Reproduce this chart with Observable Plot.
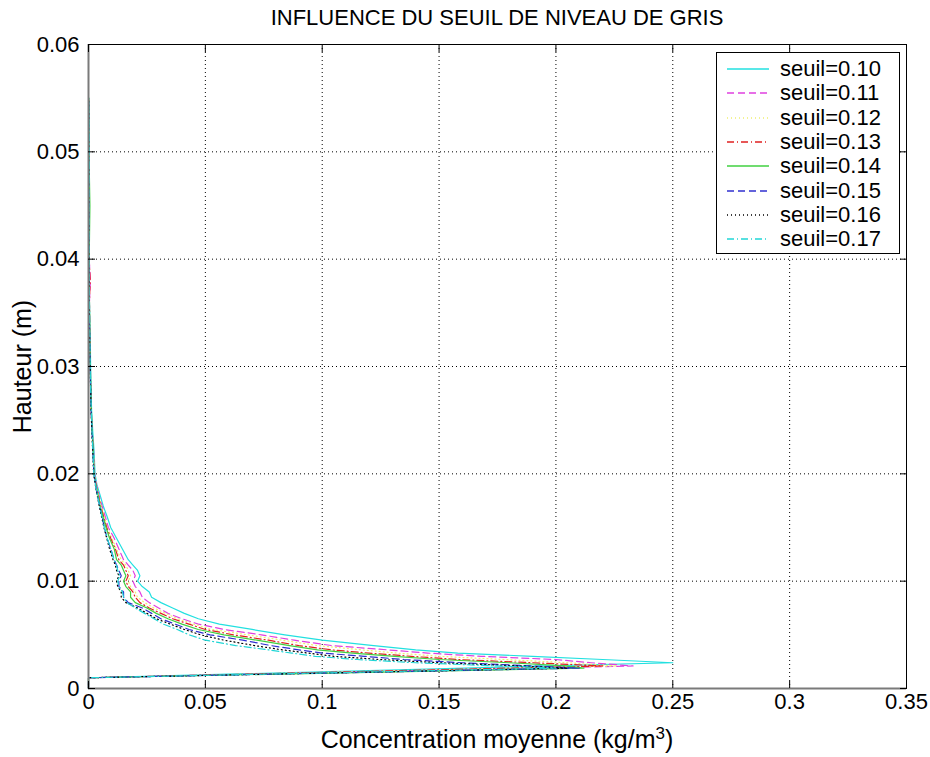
<!DOCTYPE html>
<html><head><meta charset="utf-8">
<script src="https://cdn.jsdelivr.net/npm/d3@7"></script>
<script src="https://cdn.jsdelivr.net/npm/@observablehq/plot@0.6"></script>
<style>
body{margin:0;background:#fff;font-family:"Liberation Sans",Arial,sans-serif;}
#wrap{position:relative;width:930px;height:757px;overflow:hidden;}
#chart{position:absolute;left:0;top:0;}
#title{position:absolute;left:88px;width:818px;top:5px;text-align:center;font-size:22px;line-height:26px;color:#000;}
#xlabel{position:absolute;left:88px;width:818px;top:724px;text-align:center;font-size:25px;line-height:30px;color:#000;}
#xlabel sup{font-size:17px;line-height:0;vertical-align:0.55em;}
#legend{position:absolute;left:716px;top:52px;width:182px;height:200px;border:1px solid #000;background:#fff;}
.row{position:absolute;left:0;height:24px;width:182px;}
.row svg{position:absolute;left:10px;top:0;}
.row span{position:absolute;left:63px;top:0;font-size:22px;line-height:24px;color:#000;white-space:nowrap;}
</style></head>
<body>
<div id="wrap">
<div id="chart"></div>
<div id="title">INFLUENCE DU SEUIL DE NIVEAU DE GRIS</div>
<div id="xlabel">Concentration moyenne (kg/m<sup>3</sup>)</div>
<div id="legend"></div>
</div>
<script>
// Axes
const xTicks = [0, 0.05, 0.1, 0.15, 0.2, 0.25, 0.3, 0.35];
const xTickLabels = ["0", "0.05", "0.1", "0.15", "0.2", "0.25", "0.3", "0.35"];
const yTicks = [0, 0.01, 0.02, 0.03, 0.04, 0.05, 0.06];
const yTickLabels = ["0", "0.01", "0.02", "0.03", "0.04", "0.05", "0.06"];

// Series
const seuils = ["seuil=0.10", "seuil=0.11", "seuil=0.12", "seuil=0.13", "seuil=0.14", "seuil=0.15", "seuil=0.16", "seuil=0.17"];
const couleurs = ["#22e0e0", "#e040e0", "#f0f070", "#e02020", "#40d040", "#3030d0", "#000000", "#22d6d6"];
const tirets = [null, "7,4", "1,3", "7,3,1,3", null, "7,4", "1,3", "7,3,1,3"];

// Heights (m)
const hauteurs = [0, 0.001, 0.0019, 0.0021, 0.0024, 0.0027, 0.0030, 0.0033, 0.0036, 0.0040,
  0.0045, 0.0050, 0.0055, 0.0060, 0.0065, 0.0070, 0.0075, 0.0080, 0.0085, 0.0090,
  0.0095, 0.0100, 0.0105, 0.0110, 0.0115, 0.0120, 0.0130, 0.0140, 0.0150, 0.0160,
  0.0170, 0.0180, 0.0190, 0.0200, 0.0220, 0.0240, 0.0260, 0.0280, 0.0300, 0.0320,
  0.0340, 0.0360, 0.0380, 0.0400, 0.0450, 0.0500, 0.0550];

// Mean concentration (kg/m3) per threshold
const c010 = [0, 0, 0.161, 0.196, 0.250, 0.220, 0.190, 0.158, 0.140, 0.122, 0.100, 0.084, 0.070, 0.056, 0.047, 0.041, 0.036, 0.031, 0.027, 0.026, 0.023, 0.021, 0.022, 0.021, 0.019, 0.017, 0.0145, 0.012, 0.0095, 0.008, 0.0063, 0.005, 0.0036, 0.0028, 0.0024, 0.0018, 0.0013, 0.0011, 0.0009, 0.0008, 0.0006, 0.0004, 0.0003, 0.0003, 0.0002, 0.0002, 0.0001];
const c011 = [0, 0, 0.191, 0.233, 0.215, 0.200, 0.168, 0.145, 0.128, 0.104, 0.088, 0.074, 0.058, 0.047, 0.040, 0.034, 0.030, 0.026, 0.023, 0.022, 0.020, 0.019, 0.020, 0.019, 0.017, 0.015, 0.013, 0.011, 0.0085, 0.0072, 0.0058, 0.0045, 0.0034, 0.0026, 0.0022, 0.0016, 0.0012, 0.0010, 0.0008, 0.0007, 0.0005, 0.0004, 0.0008, 0.0003, 0.0002, 0.0001, 0.0001];
const c012 = [0, 0, 0.185, 0.226, 0.205, 0.178, 0.150, 0.132, 0.117, 0.098, 0.083, 0.068, 0.053, 0.045, 0.038, 0.033, 0.028, 0.024, 0.021, 0.020, 0.018, 0.017, 0.018, 0.017, 0.016, 0.014, 0.012, 0.010, 0.008, 0.0068, 0.0055, 0.0043, 0.0033, 0.0025, 0.0021, 0.0016, 0.0012, 0.0009, 0.0008, 0.0006, 0.0005, 0.0004, 0.0003, 0.0002, 0.0002, 0.0001, 0.0001];
const c013 = [0, 0, 0.180, 0.220, 0.190, 0.158, 0.138, 0.120, 0.104, 0.090, 0.077, 0.062, 0.050, 0.043, 0.036, 0.031, 0.026, 0.022, 0.020, 0.019, 0.017, 0.016, 0.017, 0.016, 0.015, 0.013, 0.0115, 0.0095, 0.0078, 0.0065, 0.0052, 0.0042, 0.0032, 0.0024, 0.0020, 0.0015, 0.0011, 0.0009, 0.0007, 0.0006, 0.0005, 0.0004, 0.0007, 0.0003, 0.0002, 0.0001, 0.0001];
const c014 = [0, 0, 0.212, 0.204, 0.180, 0.150, 0.131, 0.113, 0.098, 0.086, 0.072, 0.058, 0.047, 0.040, 0.034, 0.029, 0.025, 0.020, 0.018, 0.018, 0.016, 0.015, 0.016, 0.015, 0.014, 0.012, 0.011, 0.009, 0.0075, 0.0062, 0.0050, 0.0041, 0.0031, 0.0024, 0.0021, 0.0016, 0.0012, 0.0010, 0.0008, 0.0006, 0.0005, 0.0004, 0.0003, 0.0003, 0.0006, 0.0002, 0.0001];
const c015 = [0, 0, 0.210, 0.190, 0.160, 0.135, 0.118, 0.100, 0.090, 0.078, 0.066, 0.052, 0.043, 0.037, 0.031, 0.027, 0.023, 0.017, 0.015, 0.015, 0.013, 0.013, 0.014, 0.013, 0.012, 0.011, 0.0095, 0.008, 0.0068, 0.0058, 0.0048, 0.0038, 0.0030, 0.0023, 0.0019, 0.0015, 0.0011, 0.0009, 0.0007, 0.0006, 0.0004, 0.0003, 0.0003, 0.0002, 0.0002, 0.0001, 0.0001];
const c016 = [0, 0, 0.205, 0.185, 0.150, 0.125, 0.105, 0.094, 0.083, 0.071, 0.058, 0.048, 0.041, 0.035, 0.029, 0.025, 0.021, 0.016, 0.014, 0.014, 0.0125, 0.012, 0.013, 0.012, 0.0115, 0.0105, 0.009, 0.0078, 0.0066, 0.0056, 0.0046, 0.0037, 0.0029, 0.0022, 0.0018, 0.0014, 0.0011, 0.0009, 0.0007, 0.0005, 0.0004, 0.0003, 0.0003, 0.0002, 0.0001, 0.0001, 0.0001];
const c017 = [0, 0, 0.200, 0.175, 0.140, 0.115, 0.097, 0.087, 0.077, 0.063, 0.050, 0.043, 0.038, 0.032, 0.028, 0.024, 0.020, 0.0165, 0.015, 0.0145, 0.013, 0.0125, 0.0135, 0.0125, 0.012, 0.011, 0.0095, 0.008, 0.0068, 0.0058, 0.0048, 0.0038, 0.0030, 0.0023, 0.0019, 0.0015, 0.0012, 0.0009, 0.0007, 0.0006, 0.0005, 0.0004, 0.0003, 0.0003, 0.0002, 0.0004, 0.0001];

const concentrations = [c010, c011, c012, c013, c014, c015, c016, c017];

const series = seuils.map((s, i) => hauteurs.map((h, j) => ({seuil: s, h, c: concentrations[i][j]})));

const fmtX = d => xTickLabels[xTicks.indexOf(d)];
const fmtY = d => yTickLabels[yTicks.indexOf(d)];

const chart = Plot.plot({
  width: 930, height: 757,
  marginLeft: 88, marginRight: 24, marginTop: 44, marginBottom: 69,
  style: {fontFamily: "'Liberation Sans', Arial, sans-serif", fontSize: "22px", color: "#000", background: "transparent", overflow: "visible"},
  x: {domain: [0, 0.35]},
  y: {domain: [0, 0.06]},
  marks: [
    Plot.gridX(xTicks.slice(1, -1), {stroke: "#000", strokeOpacity: 1, strokeDasharray: "1,3"}),
    Plot.gridY(yTicks.slice(1, -1), {stroke: "#000", strokeOpacity: 1, strokeDasharray: "1,3"}),
    ...series.map((rows, i) => Plot.line(rows, {x: "c", y: "h", stroke: couleurs[i], strokeWidth: 1.2, strokeDasharray: tirets[i]})),
    Plot.frame({stroke: "#000", strokeWidth: 1}),
    Plot.ruleX([0], {stroke: "#7a7a7a", strokeWidth: 2}),
    Plot.ruleY([0], {stroke: "#7a7a7a", strokeWidth: 2}),
    Plot.axisX(xTicks, {anchor: "bottom", tickSize: 0, tickPadding: 5, tickFormat: fmtX, label: null}),
    Plot.axisX(xTicks, {anchor: "bottom", tickSize: -7, tickFormat: () => "", label: null}),
    Plot.axisX(xTicks, {anchor: "top", tickSize: -7, tickFormat: () => "", label: null}),
    Plot.axisY(yTicks, {anchor: "left", tickSize: 0, tickPadding: 9, tickFormat: fmtY, label: null}),
    Plot.axisY(yTicks, {anchor: "left", tickSize: -7, tickFormat: () => "", label: null}),
    Plot.axisY(yTicks, {anchor: "right", tickSize: -7, tickFormat: () => "", label: null}),
    Plot.text(["Hauteur (m)"], {frameAnchor: "left", rotate: -90, dx: -66, fontSize: 25, textAnchor: "middle"})
  ]
});
document.getElementById("chart").appendChild(chart);

// Legend
const leg = document.getElementById("legend");
seuils.forEach((s, i) => {
  const row = document.createElement("div");
  row.className = "row";
  row.style.top = (4 + i * 24.3) + "px";
  const svg = d3.create("svg").attr("width", 44).attr("height", 24);
  const ln = svg.append("line").attr("x1", 0).attr("x2", 42).attr("y1", 12).attr("y2", 12)
    .style("stroke", couleurs[i]).style("stroke-width", "1.5px");
  if (tirets[i]) ln.style("stroke-dasharray", tirets[i]);
  row.appendChild(svg.node());
  const sp = document.createElement("span");
  sp.textContent = s;
  row.appendChild(sp);
  leg.appendChild(row);
});
</script>
</body></html>
